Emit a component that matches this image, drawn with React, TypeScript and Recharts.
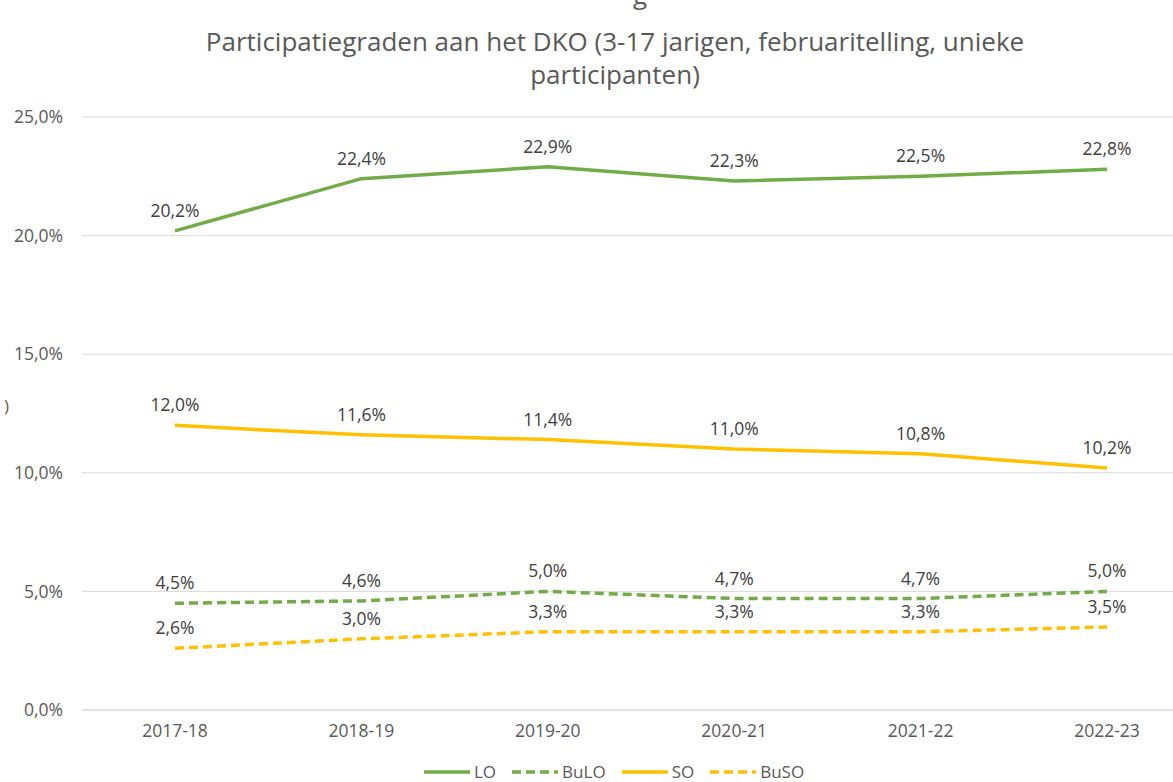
import { LineChart, Line, XAxis, YAxis, CartesianGrid, LabelList } from 'recharts';

const years = ['2017-18', '2018-19', '2019-20', '2020-21', '2021-22', '2022-23'];
const lo = [20.2, 22.4, 22.9, 22.3, 22.5, 22.8];
const buLo = [4.5, 4.6, 5.0, 4.7, 4.7, 5.0];
const so = [12.0, 11.6, 11.4, 11.0, 10.8, 10.2];
const buSo = [2.6, 3.0, 3.3, 3.3, 3.3, 3.5];
const yTicks = [0, 5, 10, 15, 20, 25];

const GREEN = '#70AD47';
const YELLOW = '#FFC000';
const FONT = '"Open Sans", "Noto Sans", sans-serif';

const data = years.map((year, i) => ({
  year,
  LO: lo[i],
  BuLO: buLo[i],
  SO: so[i],
  BuSO: buSo[i],
}));

const pct = (v: number) => v.toFixed(1).replace('.', ',') + '%';

const legendItems = [
  { name: 'LO', color: GREEN, dash: undefined },
  { name: 'BuLO', color: GREEN, dash: '9 5' },
  { name: 'SO', color: YELLOW, dash: undefined },
  { name: 'BuSO', color: YELLOW, dash: '9 5' },
];

export default function App() {
  const label = { fill: '#404040', fontSize: 17.5, fontFamily: FONT };
  const tick = { fill: '#595959', fontSize: 17.5, fontFamily: FONT };
  return (
    <div
      style={{
        position: 'absolute',
        left: 0,
        top: 0,
        width: 1173,
        height: 782,
        background: '#fff',
        overflow: 'hidden',
        fontFamily: FONT,
      }}
    >
      {/* fragments of text cut off by the crop in the reference */}
      <div style={{ position: 'absolute', left: 633, top: -24, fontSize: 26, color: '#595959' }}>g</div>
      <div style={{ position: 'absolute', left: 4, top: 394, fontSize: 17, color: '#595959' }}>)</div>
      <div
        style={{
          position: 'absolute',
          left: 0,
          top: 25,
          width: 1230,
          textAlign: 'center',
          fontSize: 26,
          lineHeight: '33px',
          color: '#595959',
        }}
      >
        Participatiegraden aan het DKO (3-17 jarigen, februaritelling, unieke
        <br />
        participanten)
      </div>
      <div style={{ position: 'absolute', left: 0, top: 0 }}>
        <LineChart width={1173} height={782} data={data} margin={{ top: 117, right: 0, bottom: 42, left: 0 }}>
          <CartesianGrid vertical={false} stroke="#d9d9d9" strokeWidth={1} />
          <XAxis
            dataKey="year"
            height={30}
            padding={{ left: 93, right: 66 }}
            axisLine={{ stroke: '#d9d9d9' }}
            tickLine={false}
            tickSize={0}
            tickMargin={15}
            tick={tick}
          />
          <YAxis
            width={82}
            domain={[0, 25]}
            ticks={yTicks}
            tickFormatter={pct}
            axisLine={false}
            tickLine={false}
            tickSize={0}
            tickMargin={19}
            tick={tick}
          />
          <Line dataKey="LO" stroke={GREEN} strokeWidth={3.5} dot={false} isAnimationActive={false}>
            <LabelList dataKey="LO" position="top" offset={14} formatter={pct} style={label} />
          </Line>
          <Line dataKey="BuLO" stroke={GREEN} strokeWidth={3.5} strokeDasharray="9 5" dot={false} isAnimationActive={false}>
            <LabelList dataKey="BuLO" position="top" offset={14} formatter={pct} style={label} />
          </Line>
          <Line dataKey="SO" stroke={YELLOW} strokeWidth={3.5} dot={false} isAnimationActive={false}>
            <LabelList dataKey="SO" position="top" offset={14} formatter={pct} style={label} />
          </Line>
          <Line dataKey="BuSO" stroke={YELLOW} strokeWidth={3.5} strokeDasharray="9 5" dot={false} isAnimationActive={false}>
            <LabelList dataKey="BuSO" position="top" offset={14} formatter={pct} style={label} />
          </Line>
        </LineChart>
      </div>
      <div
        style={{
          position: 'absolute',
          left: 424,
          top: 763,
          display: 'flex',
          alignItems: 'center',
          fontSize: 17,
          lineHeight: '18px',
          color: '#595959',
          whiteSpace: 'nowrap',
        }}
      >
        {legendItems.map((item) => (
          <span key={item.name} style={{ display: 'flex', alignItems: 'center', marginRight: 16 }}>
            <svg width={46} height={6} style={{ marginRight: 4 }}>
              <line x1={0} y1={3} x2={46} y2={3} stroke={item.color} strokeWidth={3.5} strokeDasharray={item.dash} />
            </svg>
            {item.name}
          </span>
        ))}
      </div>
    </div>
  );
}
